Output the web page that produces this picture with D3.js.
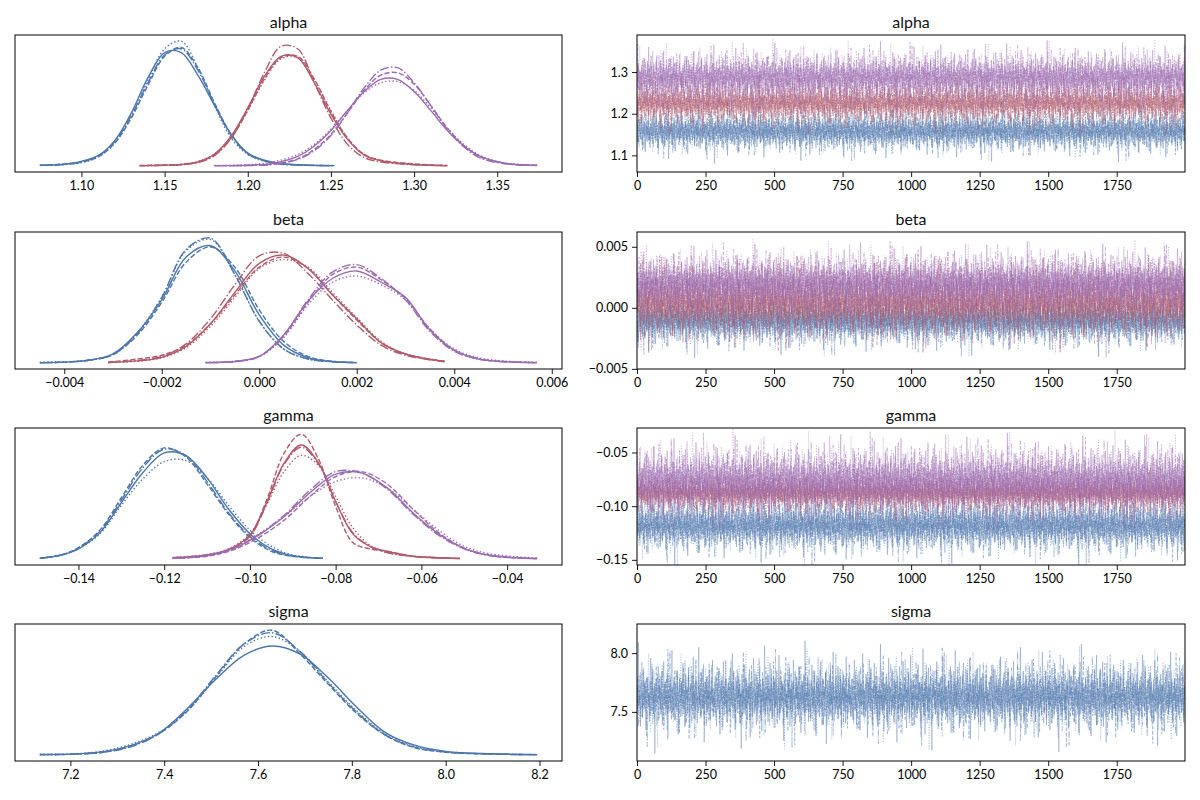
<!DOCTYPE html>
<html>
<head>
<meta charset="utf-8">
<script src="https://cdn.jsdelivr.net/npm/d3@7"></script>
<style>
  body { margin: 0; background: #fff; }
  text { font-family: Lato, "Open Sans", sans-serif; }
</style>
</head>
<body>
<svg id="fig" width="1200" height="800"></svg>
<script>
// ---- data ----
// chains in every group: [solid, dashed, dotted, dashdot]

// alpha : KDE grids and heights (relative) for groups [blue, red, purple]
var alphaX = [
  [1.075,1.09,1.10,1.11,1.12,1.13,1.14,1.15,1.16,1.17,1.18,1.19,1.20,1.21,1.22,1.235,1.252],
  [1.135,1.15,1.16,1.17,1.18,1.19,1.20,1.21,1.22,1.23,1.24,1.25,1.26,1.27,1.28,1.30,1.32],
  [1.18,1.20,1.215,1.23,1.24,1.25,1.26,1.27,1.28,1.29,1.30,1.31,1.32,1.33,1.34,1.355,1.374]
];
var alphaDens = [
  [[.004,.012,.035,.08,.20,.42,.70,.90,.90,.72,.48,.25,.10,.045,.018,.005,.001],
   [.003,.015,.03,.07,.18,.38,.64,.87,.94,.78,.50,.25,.10,.04,.016,.005,.001],
   [.002,.01,.025,.07,.18,.39,.68,.93,.99,.78,.48,.22,.09,.035,.012,.004,.002],
   [.003,.01,.03,.075,.19,.40,.66,.88,.93,.76,.49,.24,.095,.04,.015,.004,.001]],
  [[.001,.004,.01,.03,.094,.236,.46,.71,.87,.86,.66,.41,.21,.085,.04,.01,.001],
   [.002,.006,.01,.03,.085,.22,.44,.69,.86,.87,.69,.43,.22,.09,.045,.015,.002],
   [.001,.004,.012,.035,.095,.23,.44,.68,.85,.86,.68,.44,.22,.09,.04,.01,.001],
   [.001,.003,.008,.025,.08,.22,.45,.74,.95,.93,.66,.38,.17,.065,.03,.008,.001]],
  [[.001,.004,.019,.074,.157,.28,.44,.59,.687,.687,.59,.44,.28,.157,.074,.019,.003],
   [.001,.003,.012,.055,.13,.25,.42,.60,.72,.74,.65,.48,.30,.16,.07,.018,.003],
   [.002,.008,.03,.09,.17,.29,.44,.58,.66,.67,.60,.46,.30,.17,.08,.022,.004],
   [.001,.002,.01,.05,.12,.24,.42,.62,.76,.78,.66,.48,.29,.15,.06,.015,.002]]
];
var alphaMean = [[1.155,1.159,1.157,1.159],[1.224,1.227,1.226,1.225],[1.285,1.288,1.286,1.287]];
var alphaSd = [[.0205,.020,.019,.020],[.0208,.021,.021,.019],[.026,.024,.027,.023]];

// beta
var betaX = [
  [-0.0045,-0.0040,-0.0035,-0.0030,-0.0025,-0.0020,-0.0015,-0.0010,-0.0005,0.0000,0.0005,0.0010,0.0015,0.0020],
  [-0.0031,-0.0025,-0.0020,-0.0015,-0.0010,-0.0005,0.0000,0.0005,0.0010,0.0015,0.0020,0.0025,0.0030,0.0038],
  [-0.0011,-0.0005,0.0000,0.0005,0.0010,0.0015,0.0020,0.0025,0.0030,0.0035,0.0040,0.0045,0.0050,0.0057]
];
var betaDens = [
  [[0,.005,.02,.07,.24,.50,.84,.93,.73,.38,.14,.04,.01,.001],
   [.001,.005,.02,.065,.22,.48,.80,.92,.76,.42,.17,.05,.012,.002],
   [.004,.008,.02,.07,.24,.52,.89,.98,.70,.33,.11,.03,.008,.001],
   [.001,.005,.02,.065,.23,.52,.90,.99,.70,.33,.11,.03,.008,.001]],
  [[.002,.015,.043,.13,.31,.56,.79,.856,.75,.54,.35,.16,.07,.01],
   [.005,.03,.06,.14,.31,.54,.76,.84,.75,.54,.34,.16,.07,.012],
   [.002,.012,.04,.12,.29,.52,.75,.82,.76,.56,.36,.17,.07,.012],
   [.002,.018,.05,.15,.35,.62,.85,.87,.71,.50,.30,.14,.06,.008]],
  [[.001,.01,.05,.22,.49,.67,.73,.64,.52,.26,.10,.03,.01,.001],
   [.001,.01,.05,.21,.48,.70,.76,.66,.51,.27,.10,.03,.01,.001],
   [.004,.012,.05,.20,.46,.64,.69,.62,.50,.27,.11,.04,.015,.004],
   [.001,.01,.05,.22,.50,.72,.78,.67,.50,.25,.09,.03,.008,.001]]
];
var betaMean = [[-0.0011,-0.0010,-0.00112,-0.0011],[0.0004,0.00045,0.0005,0.00025],[0.00195,0.0020,0.0020,0.00195]];
var betaSd = [[.00083,.00085,.0008,.00077],[.00108,.00115,.00112,.00105],[.0010,.00098,.00105,.00095]];

// gamma
var gammaX = [
  [-0.149,-0.144,-0.14,-0.135,-0.13,-0.125,-0.12,-0.115,-0.11,-0.105,-0.10,-0.095,-0.09,-0.083],
  [-0.118,-0.11,-0.105,-0.10,-0.096,-0.092,-0.088,-0.084,-0.080,-0.076,-0.072,-0.068,-0.062,-0.051],
  [-0.118,-0.11,-0.104,-0.098,-0.092,-0.086,-0.08,-0.074,-0.068,-0.062,-0.056,-0.05,-0.044,-0.033]
];
var gammaDens = [
  [[.004,.03,.08,.21,.45,.69,.85,.83,.65,.40,.20,.08,.025,.004],
   [.004,.03,.09,.23,.49,.75,.89,.82,.60,.36,.17,.06,.02,.003],
   [.005,.03,.08,.20,.43,.64,.78,.79,.65,.43,.23,.10,.03,.005],
   [.004,.03,.085,.22,.47,.73,.88,.83,.62,.37,.18,.07,.02,.004]],
  [[.008,.03,.075,.19,.46,.77,.914,.77,.46,.20,.10,.06,.02,.002],
   [.005,.025,.07,.19,.48,.85,1.0,.80,.42,.13,.08,.06,.02,.002],
   [.01,.035,.08,.20,.44,.70,.83,.75,.50,.25,.11,.05,.02,.004],
   [.008,.03,.07,.18,.45,.76,.895,.76,.46,.21,.10,.05,.02,.002]],
  [[.004,.025,.08,.19,.34,.53,.68,.69,.57,.37,.20,.083,.028,.001],
   [.003,.02,.07,.17,.31,.50,.66,.70,.60,.40,.21,.085,.025,.002],
   [.005,.03,.09,.20,.34,.50,.62,.65,.57,.40,.23,.10,.04,.006],
   [.004,.025,.08,.19,.35,.55,.70,.69,.56,.36,.19,.08,.025,.002]]
];
var gammaMean = [[-0.118,-0.119,-0.117,-0.1185],[-0.088,-0.0885,-0.0875,-0.088],[-0.0765,-0.0755,-0.0765,-0.078]];
var gammaSd = [[.0105,.0098,.0112,.0100],[.0068,.0062,.0075,.0069],[.0128,.0128,.014,.0125]];

// sigma (one group)
var sigmaX = [
  [7.135,7.2,7.27,7.33,7.39,7.45,7.51,7.57,7.63,7.69,7.75,7.81,7.87,7.93,8.0,8.1,8.195]
];
var sigmaDens = [
  [[.002,.005,.025,.075,.175,.37,.60,.79,.865,.80,.61,.38,.18,.08,.027,.008,.001],
   [.002,.004,.02,.07,.17,.35,.62,.88,.99,.80,.56,.33,.16,.06,.02,.005,.001],
   [.002,.006,.03,.085,.18,.35,.61,.86,.94,.82,.58,.35,.17,.07,.025,.006,.002],
   [.001,.004,.02,.065,.17,.36,.63,.88,.97,.82,.57,.34,.16,.065,.022,.006,.001]]
];
var sigmaMean = [[7.632,7.620,7.625,7.625]];
var sigmaSd = [[.135,.118,.125,.12]];

// standardized draw-to-draw wiggle of the chains (hand written)
var noiseA = [0.4,-1.1,0.9,1.6,-0.3,-0.8,0.2,2.1,-1.5,0.6,-0.2,1.2,-2.3,0.1,0.8,-0.6,1.4,-0.9,0.3,-1.8,
1.0,-0.4,0.7,-1.3,2.6,-0.1,-0.7,0.5,1.9,-1.0,0.0,-2.0,1.1,0.4,-0.5,1.5,-1.2,0.9,-0.3,0.2,
-1.6,0.8,2.3,-0.9,-0.2,1.3,-3.1,0.6,-0.4,1.0,0.3,-1.4,0.7,-0.8,1.7,-0.1,-2.2,0.5,1.2,-0.6,
0.1,1.8,-1.1,0.4,-0.7,2.8,-0.5,0.9,-1.7,0.2,-0.3,1.1,-0.9,0.6,-2.5,1.4,0.0,-1.2,0.8,1.6,
-0.4,-1.0,0.3,2.0,-1.5,0.7,-0.2,1.3,-0.8,3.4,-0.6,0.1,-1.9,0.9,0.5,-1.3,1.5,-0.1,-0.7,1.0,
-2.1,0.4,1.2,-0.5,0.2,-1.6,0.8,2.4,-0.9,-0.3,1.7,-1.1,0.6,-3.6,0.3,1.1,-0.4,0.0,1.9,-1.4,
0.7,-0.8,1.3,-0.2,-1.8,0.5,2.2,-0.6,0.9,-1.2,0.1,1.5,-2.7,0.4,-0.1,1.0,-0.9,0.6,2.9,-1.0,
-0.3,1.2,-1.5,0.8,0.2,-0.7,1.6,-2.4,0.3,1.1,-0.5,-1.3,0.9,0.0,2.1,-0.8,0.4,-1.9,1.4,-0.2,
0.6,-1.1,1.8,-0.4,-2.0,0.7,0.1,1.3,-0.6,2.5,-1.4,0.2,-0.9,1.0,-0.3,-1.7,0.8,3.1,-0.5,0.3,
-1.2,1.5,-0.1,-0.8,2.0,-2.9,0.5,0.9,-0.6,1.2,-1.0,0.4,-0.2,1.7,-1.5,0.6,-0.4,2.3,-1.3,0.0];
var noiseB = [-0.7,1.3,0.2,-1.9,0.8,-0.4,1.6,-0.1,-2.4,0.5,1.0,-0.8,0.3,2.2,-1.2,0.6,-0.5,1.1,-1.6,0.4,
0.9,-0.2,-1.0,1.8,-0.6,0.1,2.7,-1.4,0.7,-0.3,-2.1,1.2,0.4,-0.9,1.5,-0.1,0.8,-1.7,0.2,-3.3,
1.4,-0.6,0.5,-1.1,2.0,0.3,-0.8,1.0,-1.5,0.6,-0.2,1.7,-2.6,0.9,0.1,-1.3,0.7,2.4,-0.4,-0.9,
0.3,-1.8,1.2,-0.5,0.8,-0.1,1.9,-1.2,0.4,-2.2,1.1,0.6,-0.7,3.2,-1.0,0.2,-0.3,1.4,-1.6,0.5,
-0.4,2.1,-0.9,0.7,-1.4,0.0,1.3,-2.0,0.9,-0.6,1.6,-0.2,-1.1,0.4,2.6,-1.5,0.3,-0.8,1.0,-0.3,
0.8,-2.8,0.6,1.5,-0.7,0.2,-1.3,1.1,-0.1,1.8,-1.9,0.5,-0.4,0.9,-1.0,2.3,-0.6,0.1,-1.7,1.2,
-0.2,0.7,-1.2,1.9,-0.8,0.3,-2.3,1.0,0.6,-0.5,1.4,-1.1,3.5,-0.9,0.2,-0.3,1.3,-1.6,0.4,0.8,
-1.4,0.1,2.0,-0.7,0.5,-1.0,1.6,-0.4,-2.5,0.9,0.3,-0.6,1.2,-1.3,0.7,2.2,-0.2,-0.9,1.1,-1.8,
0.6,-0.1,1.5,-3.0,0.4,1.0,-0.8,0.2,-1.2,1.7,-0.5,0.9,-1.5,2.8,-0.3,0.0,-1.1,1.3,-0.7,0.5,
1.9,-1.4,0.3,-0.6,1.1,-2.0,0.8,-0.2,1.4,-0.9,0.6,-1.7,2.5,-0.4,0.1,-1.0,1.2,-0.5,0.7,-1.3];
var noiseC = [1.1,-0.5,-1.4,0.7,2.3,-0.9,0.2,-1.8,1.0,0.4,-0.3,1.6,-2.1,0.8,-0.6,0.1,2.7,-1.2,0.5,-0.2,
-1.0,1.4,0.3,-2.6,0.9,-0.4,1.2,-0.7,1.8,0.0,-1.5,0.6,-0.1,2.1,-1.1,0.7,-0.8,1.3,-1.9,0.2,
0.5,-1.3,3.3,-0.6,0.1,-0.9,1.5,-2.2,0.8,0.3,-0.5,1.0,-1.6,0.4,2.4,-1.0,0.6,-0.3,-1.2,1.7,
-0.7,0.2,1.1,-1.7,0.9,-0.2,-2.9,1.3,0.4,-0.8,1.9,-1.1,0.5,0.0,-1.4,2.2,-0.6,0.8,-0.1,1.2,
-2.0,0.6,-0.4,1.5,-0.9,0.3,2.6,-1.3,0.1,-0.7,1.0,-1.8,0.7,-0.2,1.4,-0.5,-1.1,2.0,-0.3,0.9,
0.2,-1.6,0.8,-0.4,3.0,-1.2,0.5,-2.4,1.1,-0.1,0.6,-0.9,1.8,-1.5,0.3,1.3,-0.6,-3.4,0.7,0.0,
1.6,-0.8,0.4,-1.0,2.2,-0.3,0.9,-1.9,0.1,1.2,-0.7,0.5,-1.3,2.5,-0.2,-0.9,1.4,-1.1,0.6,-0.4,
-1.7,1.0,0.3,-0.5,1.9,-2.3,0.8,0.2,-1.2,1.6,-0.6,2.9,-1.0,0.4,-0.8,1.1,-0.1,-2.0,0.7,1.3,
-0.3,-1.4,0.9,2.1,-0.7,0.5,-1.6,0.1,1.7,-1.1,0.3,-0.4,2.4,-2.7,0.8,-0.2,1.0,-0.9,0.6,-1.5,
1.2,0.0,-0.8,1.8,-1.3,0.4,-0.5,2.0,-1.8,0.7,-0.1,1.5,-1.0,0.3,-2.2,0.9,1.4,-0.6,0.2,-1.1];
var noiseD = [-0.2,0.9,-1.6,1.3,0.5,-0.8,2.0,-1.1,-0.3,1.7,-2.2,0.4,0.8,-0.5,1.1,-1.3,0.1,2.5,-0.9,0.6,
-1.4,0.3,1.5,-0.7,-2.0,1.0,0.2,-1.0,1.8,-0.4,0.7,-2.8,0.9,1.2,-0.6,0.0,2.2,-1.5,0.5,-0.1,
1.0,-1.9,0.6,-0.3,1.4,-1.2,3.1,-0.8,0.2,-0.5,1.6,-1.7,0.4,0.9,-2.4,1.1,-0.2,0.7,-1.0,1.9,
-0.6,0.3,-1.3,2.3,-0.9,0.5,1.2,-0.4,-1.6,0.8,-0.1,1.4,-2.6,0.6,1.0,-0.7,0.2,-1.2,2.8,-0.3,
0.7,-1.1,0.4,1.6,-1.8,0.0,0.9,-0.5,1.3,-2.1,0.5,-0.2,1.8,-1.4,0.3,-0.8,2.1,-0.6,1.1,-1.0,
-0.4,1.5,-3.5,0.8,0.1,-0.7,1.2,-1.3,0.6,2.4,-0.9,0.2,-1.5,1.0,-0.3,0.7,-2.0,1.7,-0.1,0.4,
1.3,-0.6,-1.2,0.9,2.0,-1.6,0.5,-0.2,1.1,-0.8,0.3,-2.3,1.5,0.0,-1.1,3.3,-0.5,0.8,-1.4,0.6,
-0.9,1.2,0.2,-1.7,0.7,1.9,-0.3,-1.0,0.4,-2.5,1.4,-0.4,0.9,-0.7,1.6,-1.2,0.1,2.6,-1.8,0.5,
0.3,-0.9,1.7,-0.2,-1.3,0.6,2.2,-1.9,0.8,-0.5,1.0,-2.9,0.4,1.3,-0.6,0.1,-1.1,1.8,-0.4,0.9,
-1.5,0.7,2.0,-0.8,0.2,-1.2,1.1,-0.3,-2.1,1.5,0.5,-0.7,1.2,-1.6,0.4,0.0,2.3,-1.0,0.6,-0.2];

var drawTicks = [0,250,500,750,1000,1250,1500,1750];
var lastDraw = 1999;
var paramNames = ["alpha","beta","gamma","sigma"];

// ---- style / layout ----
var groupColors = ["#4c76ab","#b05a6c","#9a6bb0"];
var dashKde = [null,"5.2,2.2","1.4,2.3","9,2.2,1.4,2.2"];
var dashTrace = [null,"3.7,1.6","1,1.65","6.4,1.6,1,1.6"];
var leftX0 = 15, leftW = 547, rightX0 = 637, rightW = 548;
var rowTop = [35, 232, 428, 624], rowH = 137;

var panels = [
  {x: alphaX, dens: alphaDens, mean: alphaMean, sd: alphaSd, fmtL: ".2f", fmtR: ".1f"},
  {x: betaX, dens: betaDens, mean: betaMean, sd: betaSd, fmtL: ".3f", fmtR: ".3f"},
  {x: gammaX, dens: gammaDens, mean: gammaMean, sd: gammaSd, fmtL: ".2f", fmtR: ".2f"},
  {x: sigmaX, dens: sigmaDens, mean: sigmaMean, sd: sigmaSd, fmtL: ".1f", fmtR: ".1f"}
];
// every chain walks through the whole hand-written list, each from its own starting point
var noise = noiseA.concat(noiseB, noiseC, noiseD);

var svg = d3.select("#fig");
var defs = svg.append("defs");

function styleAxis(g) {
  g.select(".domain").remove();
  g.selectAll(".tick line").attr("stroke", "#000").attr("stroke-width", 0.9);
  g.selectAll(".tick text").attr("fill", "#000")
    .style("font-family", "Lato, 'Open Sans', sans-serif").style("font-size", "12.5px");
}

function frame(x0, y0, w, h) {
  svg.append("rect").attr("x", x0).attr("y", y0).attr("width", w).attr("height", h)
    .attr("fill", "none").attr("stroke", "#000").attr("stroke-width", 1);
}

function title(txt, cx, y) {
  svg.append("text").attr("x", cx).attr("y", y).attr("text-anchor", "middle")
    .style("font-size", "16px").attr("fill", "#111").text(txt);
}

panels.forEach(function(p, r) {
  var top = rowTop[r];
  var ext = d3.extent(p.x.flat());
  var pad = (ext[1] - ext[0]) * 0.05;
  var valDomain = [ext[0] - pad, ext[1] + pad];

  // ---------- KDE panel ----------
  var xL = d3.scaleLinear().domain(valDomain).range([leftX0, leftX0 + leftW]);
  var M = d3.max(p.dens.flat(2));
  var yL = d3.scaleLinear().domain([-0.05 * M, 1.05 * M]).range([top + rowH, top]);
  var kdeLine = d3.line().x(function(d){ return xL(d[0]); }).y(function(d){ return yL(d[1]); })
    .curve(d3.curveCatmullRom.alpha(0.5));
  var gL = svg.append("g");
  p.dens.forEach(function(grp, g) {
    grp.forEach(function(ys, c) {
      var pts = ys.map(function(v, i){ return [p.x[g][i], v]; });
      gL.append("path").datum(pts).attr("d", kdeLine)
        .attr("fill", "none").attr("stroke", groupColors[g]).attr("stroke-width", 1.4)
        .attr("stroke-dasharray", dashKde[c]);
    });
  });
  svg.append("g").attr("transform", "translate(0," + (top + rowH) + ")")
    .call(d3.axisBottom(xL).ticks(6).tickFormat(d3.format(p.fmtL)).tickSize(5).tickPadding(4))
    .call(styleAxis);
  frame(leftX0, top, leftW, rowH);
  title(paramNames[r], leftX0 + leftW / 2, top - 7);

  // ---------- trace panel ----------
  var xR = d3.scaleLinear().domain([0, lastDraw]).range([rightX0, rightX0 + rightW]);
  var yR = d3.scaleLinear().domain(valDomain).range([top + rowH, top]);
  defs.append("clipPath").attr("id", "clip" + r).append("rect")
    .attr("x", rightX0).attr("y", top).attr("width", rightW).attr("height", rowH);
  var gR = svg.append("g").attr("clip-path", "url(#clip" + r + ")");
  var trLine = d3.line().x(function(d){ return xR(d[0]); }).y(function(d){ return yR(d[1]); });
  var n = noise.length;
  p.mean.forEach(function(grp, g) {
    grp.forEach(function(mu, c) {
      var off = (((c + g) % 4) * 200 + g * 67 + r * 29) % n;
      var pts = noise.map(function(v, i){
        return [i * lastDraw / (n - 1), mu + p.sd[g][c] * noise[(i + off) % n]];
      });
      gR.append("path").datum(pts).attr("d", trLine)
        .attr("fill", "none").attr("stroke", groupColors[g]).attr("stroke-width", 1)
        .attr("stroke-opacity", 0.35).attr("stroke-dasharray", dashTrace[c]);
    });
  });
  svg.append("g").attr("transform", "translate(0," + (top + rowH) + ")")
    .call(d3.axisBottom(xR).tickValues(drawTicks).tickFormat(d3.format("d")).tickSize(5).tickPadding(4))
    .call(styleAxis);
  svg.append("g").attr("transform", "translate(" + rightX0 + ",0)")
    .call(d3.axisLeft(yR).ticks(3).tickFormat(d3.format(p.fmtR)).tickSize(5).tickPadding(4))
    .call(styleAxis);
  frame(rightX0, top, rightW, rowH);
  title(paramNames[r], rightX0 + rightW / 2, top - 7);
});
</script>
</body>
</html>
